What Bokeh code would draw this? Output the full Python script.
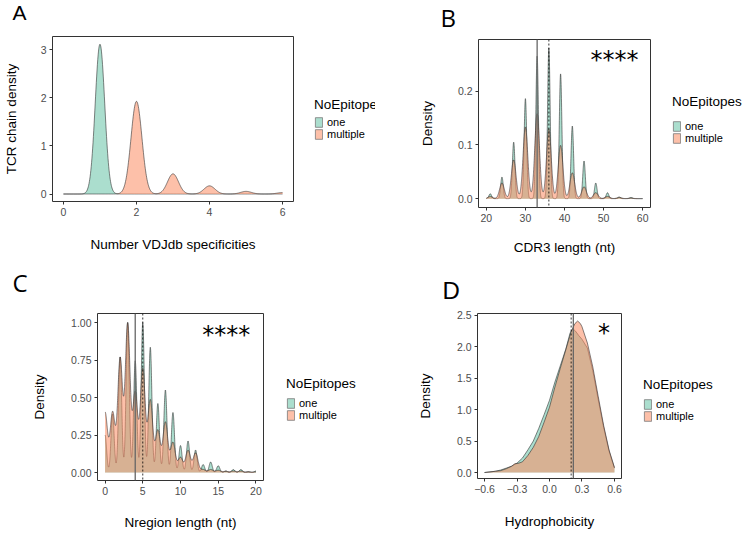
import numpy as np
from bokeh.plotting import figure
from bokeh.layouts import column, row
from bokeh.models import (Range1d, FixedTicker, PrintfTickFormatter, CustomJSTickFormatter,
                          Span, Label, Legend, LegendItem, Spacer)
from bokeh.embed import file_html
from bokeh.resources import INLINE

# ---------------- data ----------------
groups = ["one", "multiple"]
group_colors = ["#66C2A5", "#FC8D62"]
legend_title = "NoEpitopes"

# Panel A: number of VDJdb specificities (peak heights of density per value)
a_values = [1, 2, 3, 4, 5, 6]
a_one = [3.12, 0.0, 0.0, 0.0, 0.0, 0.0]
a_multiple = [0.0, 1.93, 0.42, 0.17, 0.055, 0.03]
a_xticks = [0, 2, 4, 6]
a_yticks = [0, 1, 2, 3]

# Panel B: CDR3 length (nt)
b_lengths = [21, 24, 27, 30, 33, 36, 39, 42, 45, 48, 51, 54, 57]
b_one = [0.009, 0.040, 0.105, 0.186, 0.265, 0.280, 0.232, 0.135, 0.070, 0.029, 0.011, 0.003, 0.002]
b_multiple = [0.004, 0.029, 0.072, 0.133, 0.158, 0.130, 0.099, 0.048, 0.022, 0.011, 0.004, 0.002, 0.001]
b_medians = {"one": 36, "multiple": 33}
b_xticks = [20, 30, 40, 50, 60]
b_yticks = [0.0, 0.1, 0.2]

# Panel C: N-region length (nt)
c_lengths = list(range(0, 21))
c_one = [0.25, 0.39, 0.77, 1.00, 0.745, 1.00, 0.835, 0.46, 0.55, 0.40, 0.18, 0.21, 0.15,
         0.053, 0.07, 0.045, 0.01, 0.02, 0.02, 0.005, 0.01]
c_multiple = [0.40, 0.40, 0.76, 0.99, 0.53, 0.69, 0.48, 0.28, 0.335, 0.20, 0.10, 0.147, 0.13,
              0.02, 0.02, 0.015, 0.008, 0.01, 0.01, 0.005, 0.005]
c_medians = {"one": 5, "multiple": 4}
c_xticks = [0, 5, 10, 15, 20]
c_yticks = [0.0, 0.25, 0.5, 0.75, 1.0]

# Panel D: hydrophobicity density curves
d_one_x = [-0.60, -0.55, -0.50, -0.45, -0.40, -0.35, -0.30, -0.25, -0.20, -0.15, -0.10, -0.05,
           0.00, 0.05, 0.10, 0.15, 0.19, 0.215, 0.24, 0.27, 0.30, 0.35, 0.40, 0.45, 0.50, 0.55, 0.60]
d_one_y = [0.00, 0.01, 0.02, 0.04, 0.07, 0.10, 0.15, 0.23, 0.36, 0.50, 0.70, 0.92,
           1.15, 1.44, 1.70, 1.96, 2.22, 2.29, 2.25, 2.18, 2.12, 1.98, 1.62, 1.16, 0.72, 0.34, 0.07]
d_mult_x = [-0.60, -0.55, -0.50, -0.45, -0.40, -0.35, -0.32, -0.29, -0.25, -0.20, -0.15, -0.10,
            -0.05, 0.00, 0.05, 0.10, 0.15, 0.20, 0.235, 0.26, 0.285, 0.30, 0.35, 0.40, 0.45,
            0.50, 0.55, 0.60]
d_mult_y = [0.00, 0.01, 0.02, 0.03, 0.06, 0.10, 0.14, 0.145, 0.17, 0.27, 0.40, 0.57,
            0.80, 1.04, 1.36, 1.66, 1.95, 2.24, 2.37, 2.41, 2.37, 2.32, 2.06, 1.68, 1.21,
            0.75, 0.36, 0.08]
d_medians = {"one": 0.20, "multiple": 0.22}
d_xticks = [-0.6, -0.3, 0.0, 0.3, 0.6]
d_yticks = [0.0, 0.5, 1.0, 1.5, 2.0, 2.5]

FILL_ALPHA = 0.55
FONT = "Liberation Sans"


def kde_curve(grid, centers, heights, bw):
    g = np.asarray(grid, dtype=float)[:, None]
    c = np.asarray(centers, dtype=float)[None, :]
    h = np.asarray(heights, dtype=float)[None, :]
    return (h * np.exp(-((g - c) ** 2) / (2 * bw * bw))).sum(axis=1)


def blank_fig(w, h, xr=(0, 1), yr=(0, 1)):
    f = figure(width=w, height=h, x_range=Range1d(*xr), y_range=Range1d(*yr),
               output_backend="svg", toolbar_location=None,
               x_axis_location=None, y_axis_location=None, min_border=0)
    f.xgrid.visible = False
    f.ygrid.visible = False
    f.outline_line_color = None
    f.background_fill_color = "white"
    f.border_fill_color = "white"
    return f


def make_fig(w, h, bl, br, bt, bb, xr, yr):
    p = figure(width=w, height=h, x_range=Range1d(*xr), y_range=Range1d(*yr),
               output_backend="svg", toolbar_location=None,
               min_border_left=bl, min_border_right=br, min_border_top=bt, min_border_bottom=bb)
    p.xgrid.visible = False
    p.ygrid.visible = False
    p.outline_line_color = "#333333"
    p.outline_line_width = 1
    p.background_fill_color = "white"
    p.border_fill_color = "white"
    for ax in (p.xaxis[0], p.yaxis[0]):
        ax.axis_line_color = None
        ax.major_tick_line_color = "#333333"
        ax.major_tick_out = 3
        ax.major_tick_in = 0
        ax.minor_tick_line_color = None
        ax.major_label_text_font = FONT
        ax.major_label_text_font_size = "10.5px"
        ax.major_label_text_color = "#4D4D4D"
        ax.major_label_standoff = 3
        ax.axis_label_text_font = FONT
        ax.axis_label_text_font_size = "13.5px"
        ax.axis_label_text_font_style = "normal"
        ax.axis_label_text_color = "black"
    return p


def add_density(p, x, y, color):
    p.varea(x=x, y1=np.zeros(len(x)), y2=y, fill_color=color, fill_alpha=FILL_ALPHA)
    p.line(x=x, y=y, line_color="#333333", line_width=0.6)


def legend_cell(w, h, top_gap, margin, title_gap, curves):
    """Legend in its own small figure; the key glyphs are the group density patches,
    kept outside this figure's visible ranges."""
    f = blank_fig(w, h - top_gap, xr=(1000, 1001), yr=(1000, 1001))
    items = []
    for g, col, (cx, cy) in zip(groups, group_colors, curves):
        r = f.patch(x=list(cx), y=list(cy), fill_color=col, fill_alpha=FILL_ALPHA,
                    line_color="#7a7a7a", line_width=0.8)
        items.append(LegendItem(label=g, renderers=[r]))
    lg = Legend(items=items, title=legend_title, location="top_left",
                title_text_font=FONT, title_text_font_size="13.5px", title_text_font_style="normal",
                title_text_color="black", title_standoff=title_gap,
                label_text_font=FONT, label_text_font_size="11px", label_text_color="black",
                glyph_width=9, glyph_height=12, label_height=11, label_standoff=4,
                spacing=0, padding=0, margin=margin, border_line_color=None, background_fill_alpha=0)
    f.add_layout(lg)
    return column(Spacer(width=w, height=top_gap), f)


def letter_fig(w, h, letter, x, y, font, size):
    f = blank_fig(w, h)
    f.add_layout(Label(x=x, y=y, x_units="screen", y_units="screen", text=letter,
                       text_font=font, text_font_size=size, text_color="black",
                       text_baseline="alphabetic"))
    return f


def add_medians(p, med):
    p.add_layout(Span(location=med["multiple"], dimension="height", line_color="#666666", line_width=1.3))
    p.add_layout(Span(location=med["one"], dimension="height", line_color="black", line_width=0.8,
                      line_dash="2 2"))


def add_stars(p, text, x, y):
    p.add_layout(Label(x=x, y=y, text=text, text_font="DejaVu Sans", text_font_size="24px",
                       text_align="center", text_baseline="alphabetic", text_color="black"))


# ---------------- Panel A ----------------
pA = make_fig(300, 225, 52, 7, 3, 57, (-0.3, 6.3), (-0.156, 3.28))
gridA = np.linspace(0, 6, 601)
a_one_curve = kde_curve(gridA, a_values, a_one, 0.13)
a_mult_curve = kde_curve(gridA, a_values, a_multiple, 0.15)
add_density(pA, gridA, a_one_curve, group_colors[0])
add_density(pA, gridA, a_mult_curve, group_colors[1])
pA.xaxis.ticker = FixedTicker(ticks=a_xticks)
pA.yaxis.ticker = FixedTicker(ticks=a_yticks)
pA.xaxis.axis_label = "Number VDJdb specificities"
pA.yaxis.axis_label = "TCR chain density"
pA.xaxis.axis_label_standoff = 18
pA.yaxis.axis_label_standoff = 19
cellA = column(letter_fig(375, 33, "A", 12, 21, FONT, "21px"),
               row(pA, legend_cell(75, 225, 50, 14, 4, [(gridA, a_one_curve), (gridA, a_mult_curve)])))

# ---------------- Panel B ----------------
pB = make_fig(285, 222, 103, 10, 3, 51, (18.0, 62.0), (-0.0165, 0.296))
gridB = np.linspace(20, 60, 2001)
b_one_curve = kde_curve(gridB, b_lengths, b_one, 0.33)
b_mult_curve = kde_curve(gridB, b_lengths, b_multiple, 0.6)
add_density(pB, gridB, b_one_curve, group_colors[0])
add_density(pB, gridB, b_mult_curve, group_colors[1])
add_medians(pB, b_medians)
pB.xaxis.ticker = FixedTicker(ticks=b_xticks)
pB.yaxis.ticker = FixedTicker(ticks=b_yticks)
pB.yaxis.formatter = PrintfTickFormatter(format="%.1f")
pB.xaxis.axis_label = "CDR3 length (nt)"
pB.yaxis.axis_label = "Density"
pB.xaxis.axis_label_standoff = 15
pB.yaxis.axis_label_standoff = 20
add_stars(pB, "****", 52.8, 0.258)
cellB = column(letter_fig(375, 36, "B", 65, 19, "Open Sans", "24px"),
               row(pB, legend_cell(90, 222, 46, 12, 11, [(gridB, b_one_curve), (gridB, b_mult_curve)])))

# ---------------- Panel C ----------------
pC = make_fig(273, 223, 97, 10, 3, 53, (-1.0, 21.0), (-0.053, 1.06))
gridC = np.linspace(0, 20, 2001)
c_one_curve = kde_curve(gridC, c_lengths, c_one, 0.21)
c_mult_curve = kde_curve(gridC, c_lengths, c_multiple, 0.32)
add_density(pC, gridC, c_one_curve, group_colors[0])
add_density(pC, gridC, c_mult_curve, group_colors[1])
add_medians(pC, c_medians)
pC.xaxis.ticker = FixedTicker(ticks=c_xticks)
pC.yaxis.ticker = FixedTicker(ticks=c_yticks)
pC.yaxis.formatter = PrintfTickFormatter(format="%.2f")
pC.xaxis.axis_label = "Nregion length (nt)"
pC.yaxis.axis_label = "Density"
pC.xaxis.axis_label_standoff = 17
pC.yaxis.axis_label_standoff = 21
add_stars(pC, "****", 16.05, 0.918)
cellC = column(letter_fig(375, 52, "C", 12, 28, "Open Sans", "24px"),
               row(pC, legend_cell(102, 223, 53, 13, 6, [(gridC, c_one_curve), (gridC, c_mult_curve)])))

# ---------------- Panel D ----------------
pD = make_fig(256, 223, 102, 10, 3, 55, (-0.665, 0.665), (-0.095, 2.53))
add_density(pD, d_one_x, d_one_y, group_colors[0])
add_density(pD, d_mult_x, d_mult_y, group_colors[1])
add_medians(pD, d_medians)
pD.xaxis.ticker = FixedTicker(ticks=d_xticks)
pD.yaxis.ticker = FixedTicker(ticks=d_yticks)
pD.yaxis.formatter = PrintfTickFormatter(format="%.1f")
pD.xaxis.formatter = CustomJSTickFormatter(code="return (tick < -1e-9 ? '\u2212' : '') + Math.abs(tick).toFixed(1);")
pD.xaxis.axis_label = "Hydrophobicity"
pD.yaxis.axis_label = "Density"
pD.xaxis.axis_label_standoff = 18
pD.yaxis.axis_label_standoff = 21
add_stars(pD, "*", 0.503, 2.225)
cellD = column(letter_fig(375, 52, "D", 67, 20, FONT, "24px"),
               row(pD, legend_cell(119, 223, 55, 12, 6, [(d_one_x, d_one_y), (d_mult_x, d_mult_y)])))

layout = column(row(cellA, cellB), row(cellC, cellD))
open("out.html", "w").write(file_html(layout, INLINE))
